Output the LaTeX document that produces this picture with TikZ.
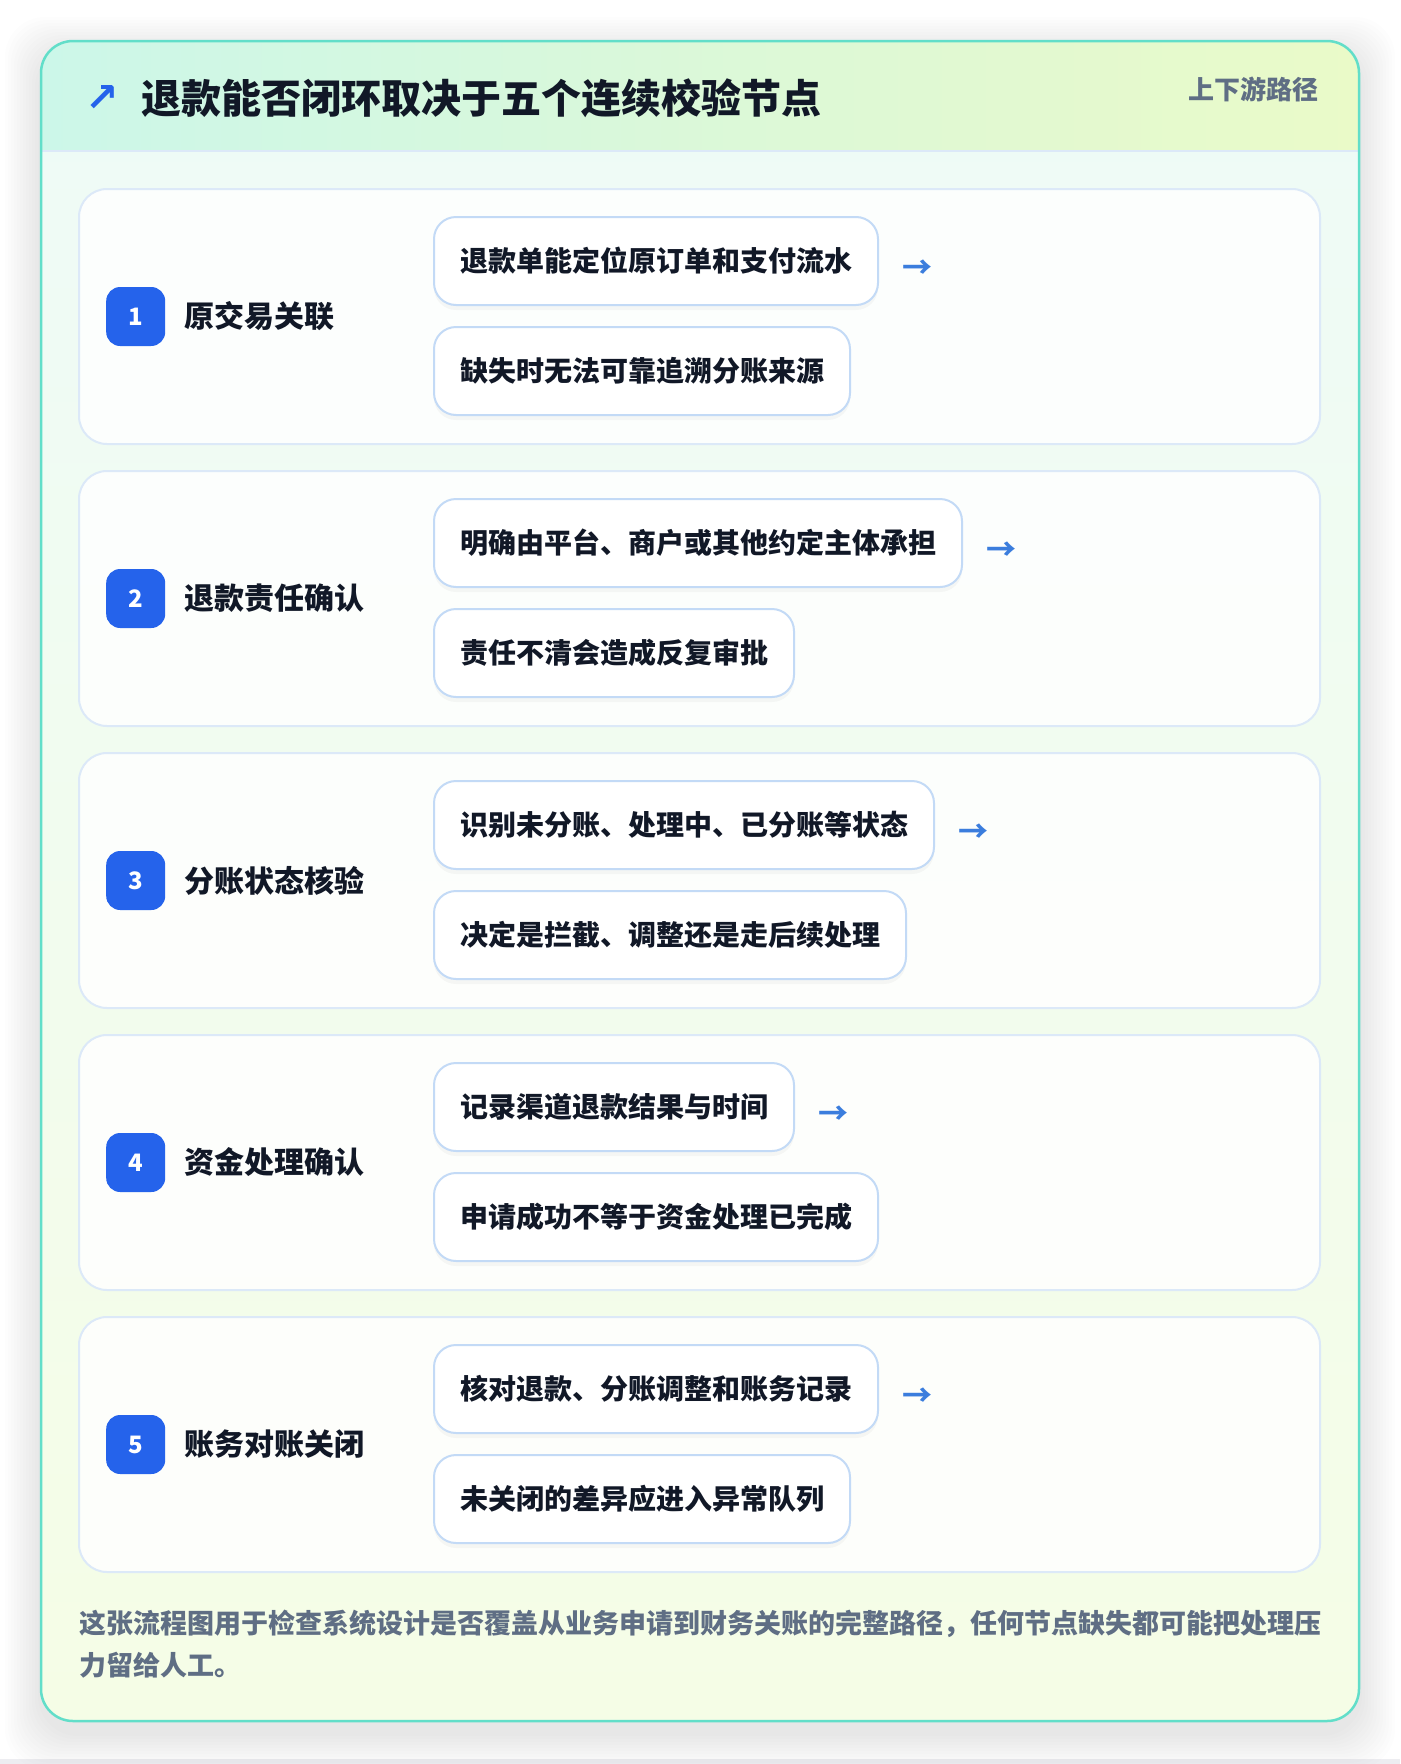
\documentclass[tikz,border=0pt]{standalone}
\usepackage{fontspec}
\setmainfont{Noto Sans CJK SC}
\newfontfamily\symfont{DejaVu Sans}
\usetikzlibrary{positioning,shadows}
\definecolor{cardline}{HTML}{62DEC9}
\definecolor{headL}{HTML}{CCF7E9}
\definecolor{headR}{HTML}{EAFAC8}
\definecolor{bodyT}{HTML}{EEFBF7}
\definecolor{bodyB}{HTML}{F5FDE6}
\definecolor{secline}{HTML}{DCE9F8}
\definecolor{itemline}{HTML}{C3DAF6}
\definecolor{badgeblue}{HTML}{2563EB}
\definecolor{arrowblue}{HTML}{3B7DDD}
\definecolor{inkdark}{HTML}{111827}
\definecolor{inkgray}{HTML}{5F6E84}
\definecolor{pagegray}{HTML}{EDEDF1}
\tikzset{
  secbox/.style={draw=secline, line width=2pt, fill=white, fill opacity=0.85,
    rounded corners=28pt, minimum width=1241pt, minimum height=255pt, inner sep=0pt},
  badge/.style={fill=badgeblue, text=white, rounded corners=14pt, minimum size=59pt,
    inner sep=0pt, font=\fontsize{24}{24}\selectfont\bfseries},
  steplabel/.style={text=inkdark, inner sep=0pt, font=\fontsize{30}{30}\selectfont\bfseries},
  itembox/.style={draw=itemline, line width=2pt, fill=white, rounded corners=22pt,
    minimum height=88pt, inner xsep=26pt, inner ysep=0pt, text=inkdark,
    font=\fontsize{28}{28}\selectfont\bfseries,
    drop shadow={shadow xshift=0pt, shadow yshift=-5pt, opacity=0.03, fill=black}},
  nextarrow/.style={text=arrowblue, inner sep=0pt, font=\fontsize{30}{30}\selectfont\bfseries},
}
\begin{document}
\begin{tikzpicture}[x=1pt, y=-1pt, line join=round, line cap=round]
  \useasboundingbox (0,0) rectangle (1400,1764);
  \fill[white] (0,0) rectangle (1400,1764);
  \fill[pagegray] (0,1759) rectangle (1400,1764);
  % soft shadow round the card
  \foreach \k in {1,...,12}
    \fill[black, opacity=0.006, rounded corners=40pt] (41-\k*3,53-\k*3) rectangle (1359+\k*3,1733+\k*3);
  % card, header band
  \shade[top color=bodyT, bottom color=bodyB, rounded corners=32pt] (41,41) rectangle (1359,1721);
  \begin{scope}
    \clip[rounded corners=32pt] (41,41) rectangle (1359,1721);
    \shade[left color=headL, right color=headR] (41,41) rectangle (1359,151);
  \end{scope}
  \draw[secline, line width=2pt] (42,151) -- (1358,151);
  \draw[cardline, line width=2.5pt, rounded corners=32pt] (41,41) rectangle (1359,1721);
  \node[text=badgeblue, inner sep=0pt, font=\fontsize{40}{40}\selectfont\symfont\bfseries] (icon) at (102,99) {↗};
  \node[anchor=west, text=inkdark, inner sep=0pt, font=\fontsize{40}{40}\selectfont\bfseries] (title) at (141,98) {退款能否闭环取决于五个连续校验节点};
  \node[anchor=east, text=inkgray, inner sep=0pt, font=\fontsize{26}{26}\selectfont\bfseries] (tag) at (1319,89) {上下游路径};
  % five check steps
  \foreach \i/\name/\ta/\tb in {
      1/原交易关联/退款单能定位原订单和支付流水/缺失时无法可靠追溯分账来源,
      2/退款责任确认/明确由平台、商户或其他约定主体承担/责任不清会造成反复审批,
      3/分账状态核验/识别未分账、处理中、已分账等状态/决定是拦截、调整还是走后续处理,
      4/资金处理确认/记录渠道退款结果与时间/申请成功不等于资金处理已完成,
      5/账务对账关闭/核对退款、分账调整和账务记录/未关闭的差异应进入异常队列}{
    \node[secbox] (sec\i) at (699.5,{316.5+282*(\i-1)}) {};
    \node[badge, right=28pt of sec\i.west] (badge\i) {\i};
    \node[steplabel, right=19pt of badge\i] (label\i) {\name};
    \node[itembox, below right=28pt and 355pt of sec\i.north west] (up\i) {\ta};
    \node[itembox, below right=20pt and 0pt of up\i.south west] (down\i) {\tb};
    \node[nextarrow, right=23pt of up\i, yshift=-8pt] (go\i) {→};
  }
  \node[anchor=north west, align=left, text=inkgray, inner sep=0pt,
    font=\fontsize{27}{42}\selectfont\bfseries] (note) at (79,1610)
    {这张流程图用于检查系统设计是否覆盖从业务申请到财务关账的完整路径，任何节点缺失都可能把处理压\\力留给人工。};
\end{tikzpicture}
\end{document}
